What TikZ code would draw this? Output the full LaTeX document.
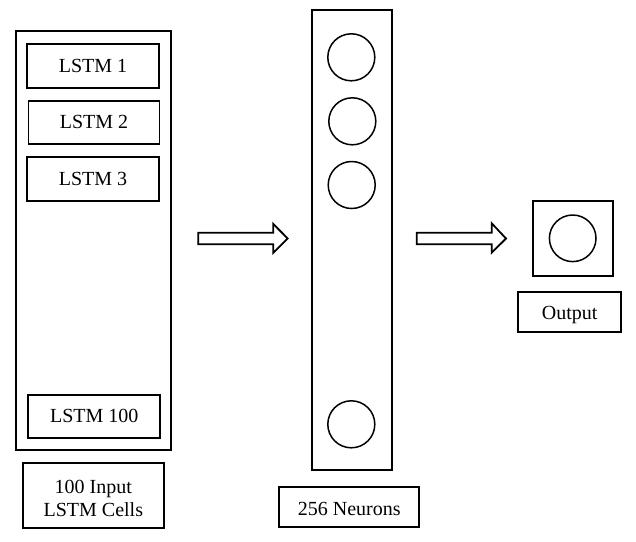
\documentclass[tikz,border=0pt]{standalone}
\usepackage{fontspec}
\setmainfont{Liberation Serif}
\newfontfamily\lserif{Liberation Serif}
\begin{document}
\begin{tikzpicture}[x=1pt,y=-1pt,
  box/.style={draw,line width=1.9pt,inner sep=0pt,font=\lserif\fontsize{20}{23}\selectfont,align=center},
  lstm/.style={box,text height=12pt,text depth=0pt},
  neuron/.style={draw,circle,line width=1.5pt,inner sep=0pt,minimum size=47pt},
  bigarrow/.style={draw,line width=1.8pt,fill=white,line join=miter}]
\useasboundingbox (0,0) rectangle (636,541);
% left column
\node[box,minimum width=155pt,minimum height=419pt] (outer) at (93.5,240.5) {};
\node[lstm,minimum width=132pt,minimum height=44pt] (l1) at (93,66) {LSTM 1};
\node[lstm,minimum width=131pt,minimum height=43pt] (l2) at (94,122.3) {LSTM 2};
\node[lstm,minimum width=132pt,minimum height=44pt] (l3) at (93,179) {LSTM 3};
\node[lstm,minimum width=131.7pt,minimum height=43.3pt] (l100) at (94.2,416.7) {LSTM 100};
\node[box,minimum width=141pt,minimum height=65pt] (inlab) at (93.3,495.5) {\rule{0pt}{19.8pt}100 Input\\LSTM Cells};
% middle column
\node[box,minimum width=80pt,minimum height=460pt] (mid) at (351.7,240) {};
\node[neuron] (n1) at (351.3,57.3) {};
\node[neuron] (n2) at (352.3,121.3) {};
\node[neuron] (n3) at (351.7,185) {};
\node[neuron] (n4) at (351.3,424.3) {};
\node[box,text height=16pt,text depth=0pt,minimum width=140.3pt,minimum height=39.4pt] (midlab) at (349.2,507) {256 Neurons};
% output
\node[box,minimum width=80pt,minimum height=75.3pt] (outbox) at (572.7,238.3) {};
\node[neuron,minimum size=46.6pt] (on) at (572.7,238.3) {};
\node[box,text height=15.6pt,text depth=0pt,minimum width=102.7pt,minimum height=39.4pt] (outlab) at (569.7,312) {Output};
% arrows
\draw[bigarrow] (198.3,232.7) -- (273.3,232.7) -- (273.3,224) -- (287.7,238.5) -- (273.3,252.7) -- (273.3,244.3) -- (198.3,244.3) -- cycle;
\draw[bigarrow] (416.7,232.7) -- (491.7,232.7) -- (491.7,223.3) -- (506,238.5) -- (491.7,252.7) -- (491.7,244.3) -- (416.7,244.3) -- cycle;
\end{tikzpicture}
\end{document}
